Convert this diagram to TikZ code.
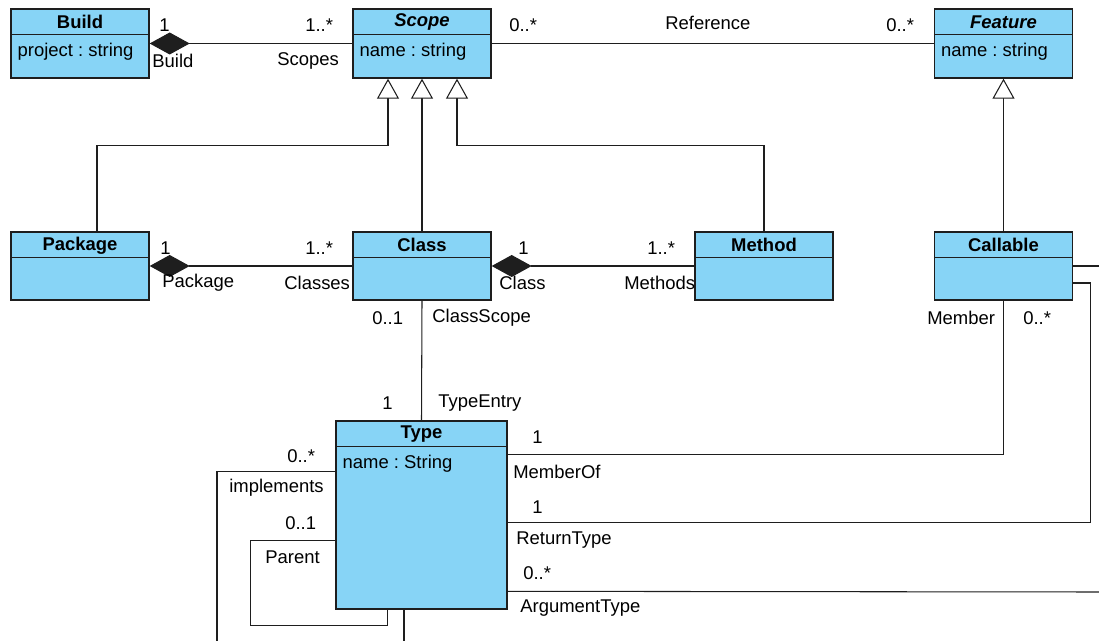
\documentclass[tikz,border=0pt]{standalone}
\usepackage{fontspec}
\setmainfont{Liberation Sans}
\usetikzlibrary{arrows.meta,calc,positioning}
\definecolor{umlblue}{RGB}{135,212,246}
\definecolor{umlline}{RGB}{30,30,30}
\frenchspacing

\begin{document}
\begin{tikzpicture}[x=0.02cm,y=-0.02cm,>=Stealth,every node/.style={font=\fontsize{10.5}{12}\selectfont}]
  \tikzset{
    cls/.style={draw=umlline,fill=umlblue,line width=0.8pt,minimum width=2.76cm,minimum height=1.38cm,inner sep=0pt},
    sep/.style={draw=umlline,line width=0.8pt},
    ttl/.style={font=\fontsize{10.5}{12}\selectfont\bfseries,inner sep=0pt},
    attr/.style={anchor=west,inner sep=0pt},
    lbl/.style={anchor=west,inner sep=0pt},
    conn/.style={draw=umlline,line width=0.6pt},
    comp/.style={conn,{Diamond[length=0.8cm,width=0.44cm]}-},
    gen/.style={conn,{Triangle[length=0.4cm,width=0.44cm,fill=white]}-}
  }
  \useasboundingbox (0,0) rectangle (1099,641);
  % classes
  \node[cls] (build) at (80,43.5) {};
  \node[cls] (scope) at (422,43.5) {};
  \node[cls] (feature) at (1003.5,43.5) {};
  \node[cls,minimum height=1.36cm] (package) at (80,266) {};
  \node[cls,minimum height=1.36cm] (class) at (422,266) {};
  \node[cls,minimum height=1.36cm] (method) at (764,266) {};
  \node[cls,minimum height=1.36cm] (callable) at (1003.5,266) {};
  \node[cls,minimum width=3.42cm,minimum height=3.76cm] (type) at (421.5,515) {};
  \foreach \c in {build,scope,feature,package,class,method,callable,type}
    \draw[sep] ($(\c.north west)+(0,26)$) -- ($(\c.north east)+(0,26)$);
  \node[ttl] (build-t) at ($(build.north)+(0,14)$) {Build};
  \node[ttl] (scope-t) at ($(scope.north)+(0,14)$) {\itshape Scope};
  \node[ttl] (feature-t) at ($(feature.north)+(0,14)$) {\itshape Feature};
  \node[ttl] (package-t) at ($(package.north)+(0,14)$) {Package};
  \node[ttl] (class-t) at ($(class.north)+(0,14)$) {Class};
  \node[ttl] (method-t) at ($(method.north)+(0,14)$) {Method};
  \node[ttl] (callable-t) at ($(callable.north)+(0,14)$) {Callable};
  \node[ttl] (type-t) at ($(type.north)+(0,14)$) {Type};
  \node[attr] (build-a) at ($(build.north west)+(7,43)$) {project : string};
  \node[attr] (scope-a) at ($(scope.north west)+(7,43)$) {name : string};
  \node[attr] (feature-a) at ($(feature.north west)+(7,43)$) {name : string};
  \node[attr] (type-a) at ($(type.north west)+(7,43)$) {name : String};
  % loose ends at the picture edge
  \coordinate (out-a) at (1099,266);
  \coordinate (out-b) at (1099,592);
  \coordinate (out-c) at (217,641);
  \coordinate (out-d) at (404,641);
  % associations
  \draw[comp] (build.east) -- (scope.west);
  \draw[conn] (scope.east) -- (feature.west);
  \draw[comp] (package.east) -- (class.west);
  \draw[comp] (class.east) -- (method.west);
  \draw[conn] (class.south) -- (type.north);
  \draw[conn] (callable.south) |- ($(type.north east)+(0,34)$);
  \draw[conn] ($(callable.east)+(0,17)$) -- ++(17,0) |- ($(type.north east)+(0,102)$);
  \draw[conn] (callable.east) -- (out-a);
  \draw[conn] ($(type.north east)+(0,171)$) -- (out-b);
  \draw[conn] ($(type.north west)+(0,51)$) -| (out-c);
  \draw[conn] ($(type.north west)+(0,120)$) -- ++(-85,0) -- ++(0,85) -| ($(type.south)+(-34,0)$);
  \draw[conn] ($(type.south)+(-17.5,0)$) -- (out-d);
  % generalizations
  \draw[gen] ($(scope.south)+(-34,0)$) -- ++(0,67) -| ($(package.north)+(17,0)$);
  \draw[gen] (scope.south) -- (class.north);
  \draw[gen] ($(scope.south)+(35,0)$) -- ++(0,67) -| (method.north);
  \draw[gen] (feature.south) -- (callable.north);
  % roles and multiplicities
  \node[lbl] (m-build-1) at (159,25) {1};
  \node[lbl] (r-build) at (152,61) {Build};
  \node[lbl] (m-scopes) at (305,25) {1..*};
  \node[lbl] (r-scopes) at (277,61) {Scopes};
  \node[lbl] (m-ref-a) at (509,25) {0..*};
  \node[lbl] (r-ref) at (665,23) {Reference};
  \node[lbl] (m-ref-b) at (886,25) {0..*};
  \node[lbl] (m-pkg-1) at (160,248) {1};
  \node[lbl] (r-pkg) at (162,283) {Package};
  \node[lbl] (m-classes) at (305,248) {1..*};
  \node[lbl] (r-classes) at (284,283) {Classes};
  \node[lbl] (m-cls-1) at (518,248) {1};
  \node[lbl] (r-cls) at (499,283) {Class};
  \node[lbl] (m-methods) at (647,248) {1..*};
  \node[lbl] (r-methods) at (624,283) {Methods};
  \node[lbl] (m-cscope) at (372,318) {0..1};
  \node[lbl] (r-cscope) at (432,318) {ClassScope};
  \node[lbl] (r-member) at (927,318) {Member};
  \node[lbl] (m-member) at (1023,318) {0..*};
  \node[lbl] (m-tentry) at (382,403) {1};
  \node[lbl] (r-tentry) at (438,403) {TypeEntry};
  \node[lbl] (m-impl) at (287,456) {0..*};
  \node[lbl] (r-impl) at (229,488) {implements};
  \node[lbl] (m-parent) at (285,523) {0..1};
  \node[lbl] (r-parent) at (265,557) {Parent};
  \node[lbl] (m-memof) at (532,437) {1};
  \node[lbl] (r-memof) at (513,472) {MemberOf};
  \node[lbl] (m-ret) at (532,507) {1};
  \node[lbl] (r-ret) at (516,540) {ReturnType};
  \node[lbl] (m-arg) at (523,573) {0..*};
  \node[lbl] (r-arg) at (520,608) {ArgumentType};
\end{tikzpicture}
\end{document}
